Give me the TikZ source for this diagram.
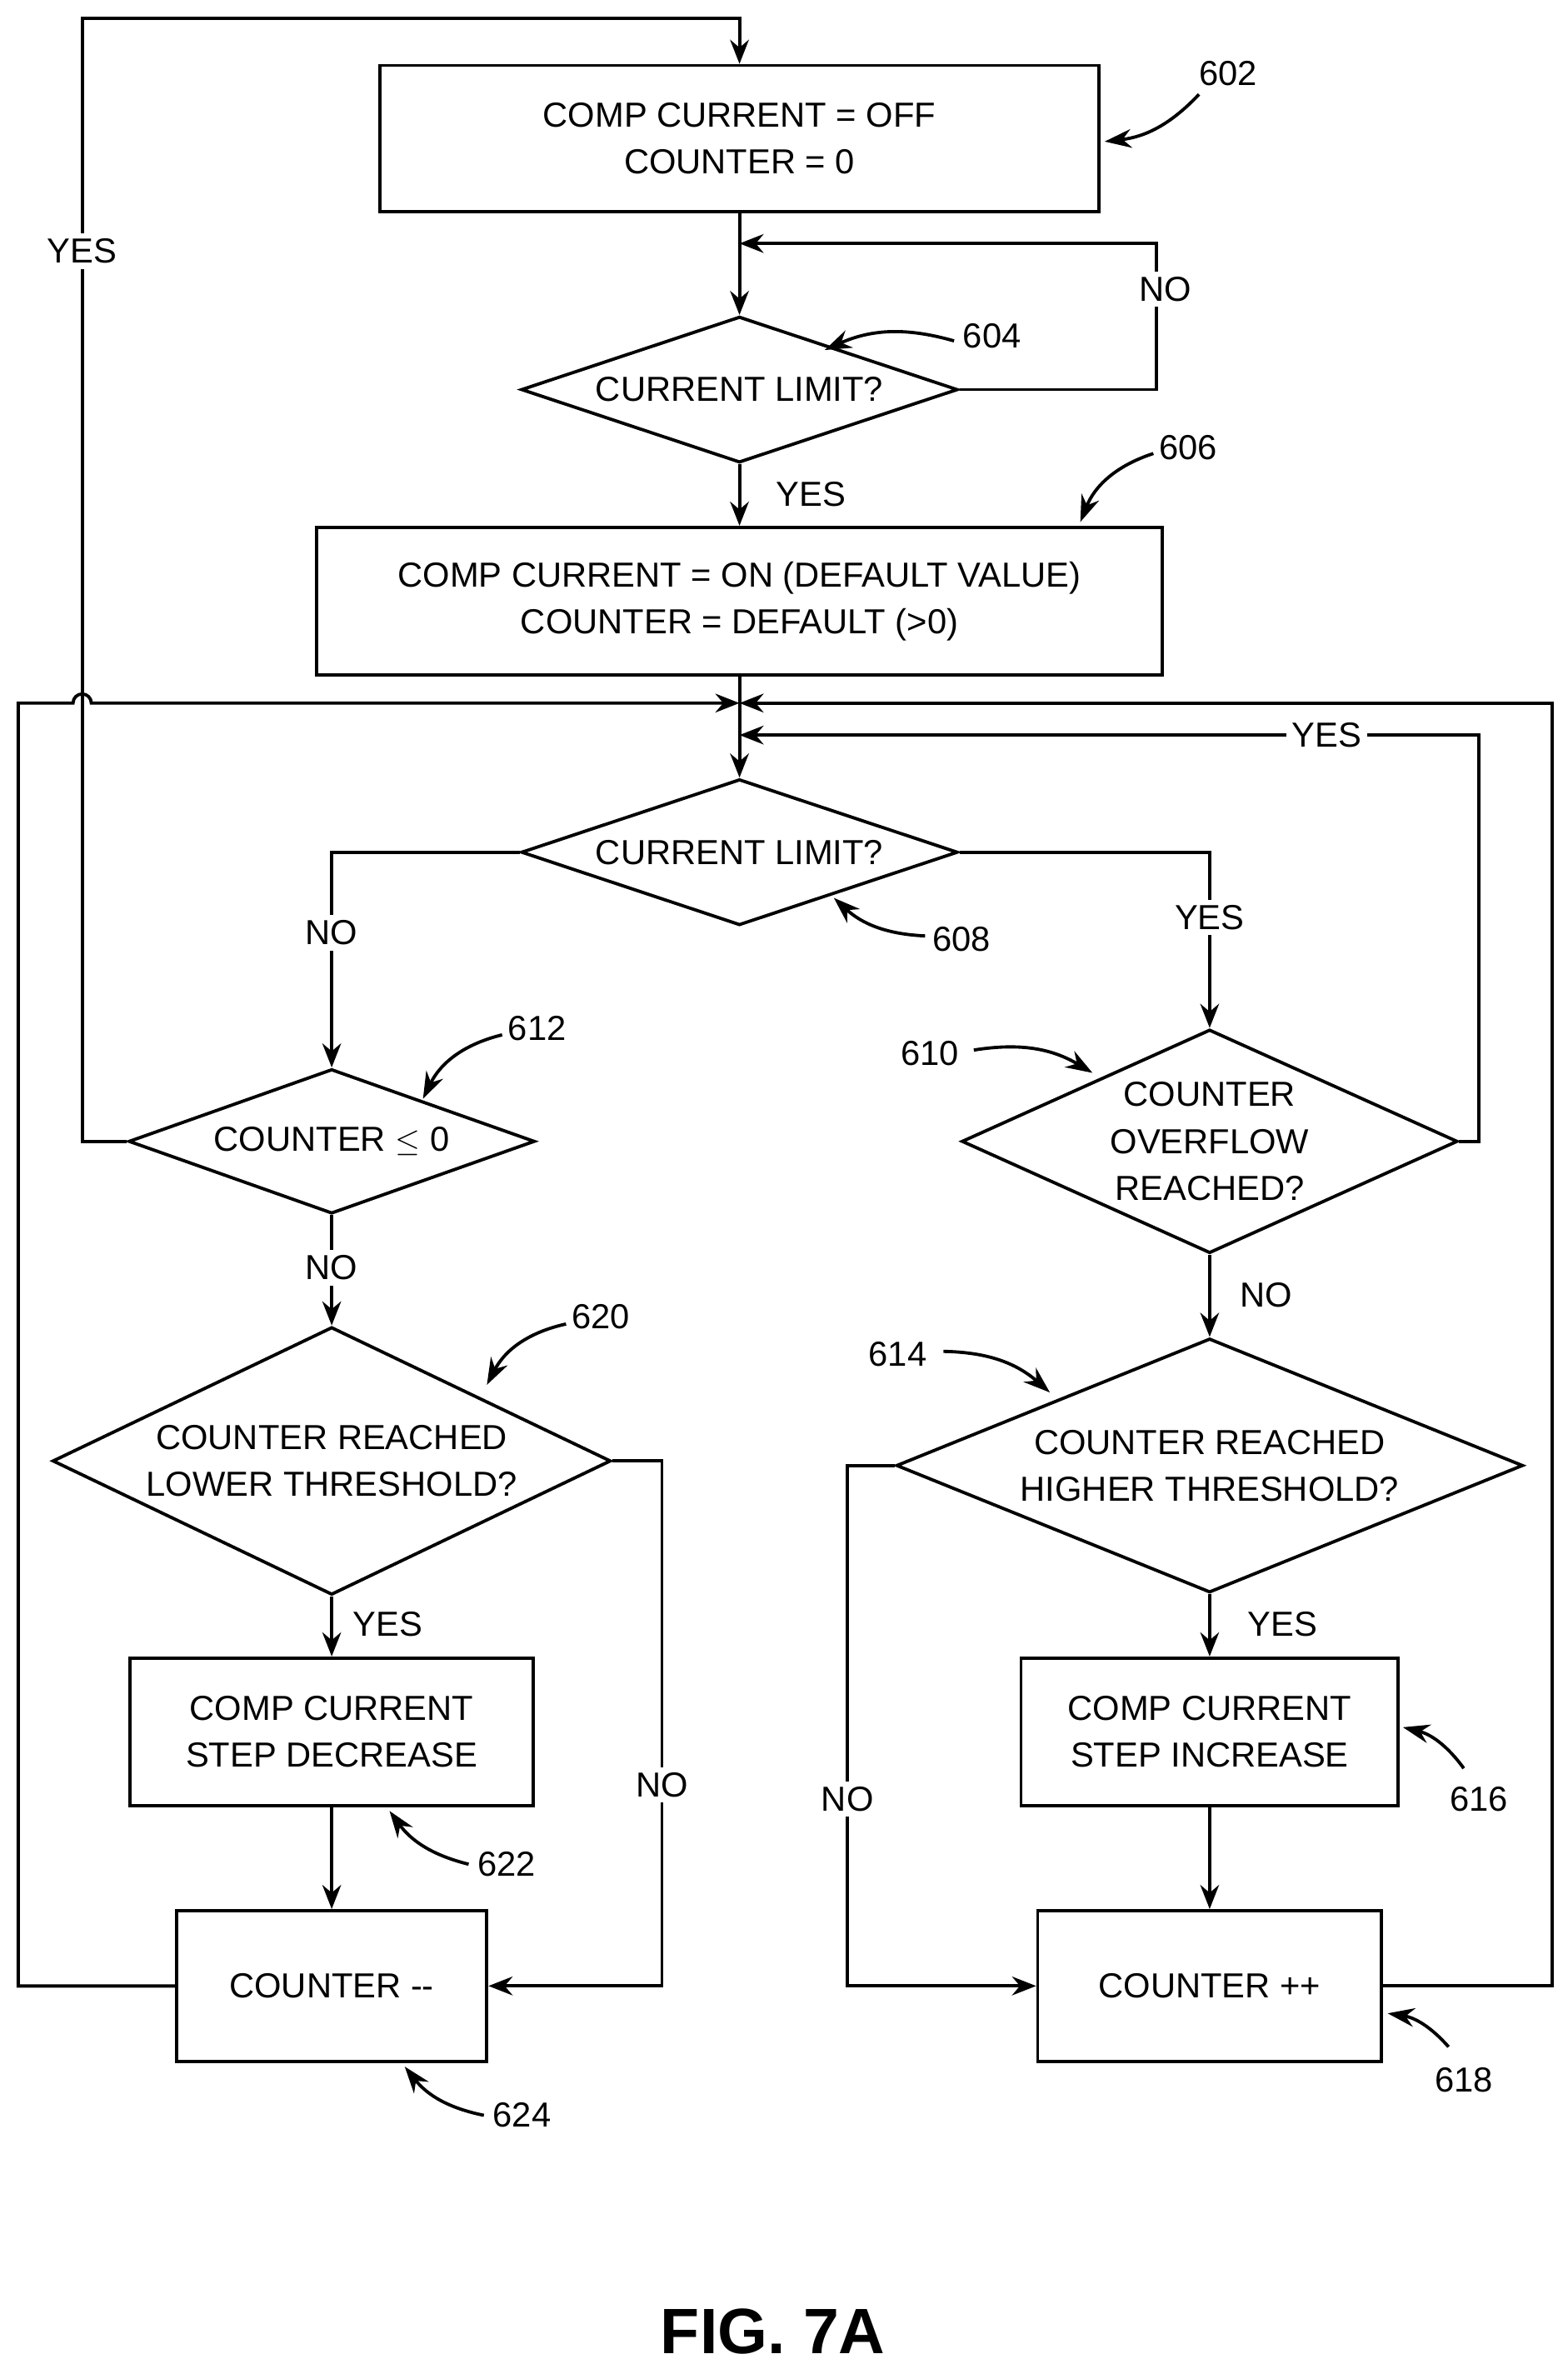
\documentclass[tikz,border=0pt]{standalone}
\usepackage{fontspec}
\setmainfont{Liberation Sans}
\usetikzlibrary{arrows.meta, shapes.geometric}

\tikzset{
  box/.style={draw, line width=1.2pt, rectangle},
  dec/.style={draw, line width=1.2pt, diamond, inner sep=0pt},
  txt/.style={align=center, font=\fontsize{13}{17.5}\selectfont},
  lbl/.style={font=\fontsize{13}{16}\selectfont, fill=white, inner sep=2pt},
  flow/.style={line width=1.2pt, -{Stealth[length=9pt,width=7pt]}},
  line/.style={line width=1.2pt},
  lead/.style={line width=1.2pt, -{Stealth[length=10pt,width=7pt]}},
}

\begin{document}
\begin{tikzpicture}[x=0.02cm, y=-0.02cm]
    \useasboundingbox (0,0) rectangle (1030,1560);

    % boxes
    \node[box, minimum width=9.46cm, minimum height=1.92cm] (b602) at (486,91) {};
    \node[txt] at (b602) {COMP CURRENT = OFF\\COUNTER = 0};
    \node[box, minimum width=11.12cm, minimum height=1.94cm] (b606) at (486,395) {};
    \node[txt] at (b606) {COMP CURRENT = ON (DEFAULT VALUE)\\COUNTER = DEFAULT (>0)};
    \node[box, minimum width=5.3cm, minimum height=1.94cm] (b622) at (218,1138) {};
    \node[txt] at (b622) {COMP CURRENT\\STEP DECREASE};
    \node[box, minimum width=4.08cm, minimum height=1.98cm] (b624) at (218,1305) {};
    \node[txt] at (b624) {COUNTER {-}{-}};
    \node[box, minimum width=4.96cm, minimum height=1.94cm] (b616) at (795,1138) {};
    \node[txt] at (b616) {COMP CURRENT\\STEP INCREASE};
    \node[box, minimum width=4.52cm, minimum height=1.98cm] (b618) at (795,1305) {};
    \node[txt] at (b618) {COUNTER ++};

    % decisions
    \node[dec, minimum width=5.74cm, minimum height=1.92cm] (d604) at (486,256) {};
    \node[txt] at (d604) {CURRENT LIMIT?};
    \node[dec, minimum width=5.74cm, minimum height=1.92cm] (d608) at (486,560) {};
    \node[txt] at (d608) {CURRENT LIMIT?};
    \node[dec, minimum width=5.34cm, minimum height=1.9cm] (d612) at (218,750) {};
    \node[txt] at (d612) {COUNTER $\leq$ 0};
    \node[dec, minimum width=7.34cm, minimum height=3.52cm] (d620) at (218,960) {};
    \node[txt] at (d620) {COUNTER REACHED\\LOWER THRESHOLD?};
    \node[dec, minimum width=6.52cm, minimum height=2.94cm] (d610) at (795,750) {};
    \node[txt] at (d610) {COUNTER\\OVERFLOW\\REACHED?};
    \node[dec, minimum width=8.24cm, minimum height=3.34cm] (d614) at (795,963) {};
    \node[txt] at (d614) {COUNTER REACHED\\HIGHER THRESHOLD?};

    \coordinate (m1) at (486,160);
    \coordinate (m2) at (486,462);
    \coordinate (m3) at (486,483);

    % connectors
    \draw[flow] (b602) -- (d604);
    \draw[flow] (d604.east) -- (760,256) -- (760,160) -- (m1);
    \draw[flow] (d604) -- (b606);
    \draw[line] (b606) -- (m2);
    \draw[flow] (m2) -- (d608);
    \draw[flow] (b624.west) -- (12,1305) -- (12,462) -- (48,462) arc(180:360:6) -- (m2);
    \draw[flow] (b618.east) -- (1020,1305) -- (1020,462) -- (m2);
    \draw[flow] (d610.east) -- (972,750) -- (972,483) -- (m3);
    \draw[flow] (d608.west) -| (d612.north);
    \draw[flow] (d608.east) -| (d610.north);
    \draw[flow] (d612.west) -- (54,750) -- (54,12) -- (486,12) -- (b602.north);
    \draw[flow] (d612) -- (d620);
    \draw[flow] (d620.east) -- (435,960) |- (b624.east);
    \draw[flow] (d620) -- (b622);
    \draw[flow] (b622) -- (b624);
    \draw[flow] (d610) -- (d614);
    \draw[flow] (d614.west) -- (557,963) |- (b618.west);
    \draw[flow] (d614) -- (b616);
    \draw[flow] (b616) -- (b618);

    % branch labels
    \node[lbl] at (766,190) {NO};
    \node[lbl] at (533,325) {YES};
    \node[lbl] at (872,483) {YES};
    \node[lbl] at (218,613) {NO};
    \node[lbl] at (795,603) {YES};
    \node[lbl] at (54,165) {YES};
    \node[lbl] at (218,833) {NO};
    \node[lbl] at (435,1173) {NO};
    \node[lbl] at (255,1067) {YES};
    \node[lbl] at (832,851) {NO};
    \node[lbl] at (843,1067) {YES};
    \node[lbl] at (557,1182) {NO};

    % reference numerals
    \node[lbl] at (807,48) {602};
    \draw[lead] (788,62) to[bend left=20] (726,93);
    \node[lbl] at (652,221) {604};
    \draw[lead] (627,224) to[bend right=20] (542,230);
    \node[lbl] at (781,294) {606};
    \draw[lead] (758,298) to[bend right=25] (710,343);
    \node[lbl] at (632,617) {608};
    \draw[lead] (608,615) to[bend left=20] (548,590);
    \node[lbl] at (353,676) {612};
    \draw[lead] (330,680) to[bend right=25] (278,722);
    \node[lbl] at (395,865) {620};
    \draw[lead] (372,870) to[bend right=25] (320,910);
    \node[lbl] at (333,1225) {622};
    \draw[lead] (308,1225) to[bend left=20] (256,1190);
    \node[lbl] at (343,1390) {624};
    \draw[lead] (318,1390) to[bend left=20] (266,1358);
    \node[lbl] at (611,692) {610};
    \draw[lead] (640,690) to[bend left=20] (718,705);
    \node[lbl] at (590,890) {614};
    \draw[lead] (620,888) to[bend left=20] (690,915);
    \node[lbl] at (972,1182) {616};
    \draw[lead] (962,1162) to[bend right=20] (922,1135);
    \node[lbl] at (962,1367) {618};
    \draw[lead] (952,1345) to[bend right=20] (912,1323);

    \node[font=\bfseries\fontsize{24}{28}\selectfont] (fig) at (508,1532) {FIG. 7A};
\end{tikzpicture}
\end{document}
